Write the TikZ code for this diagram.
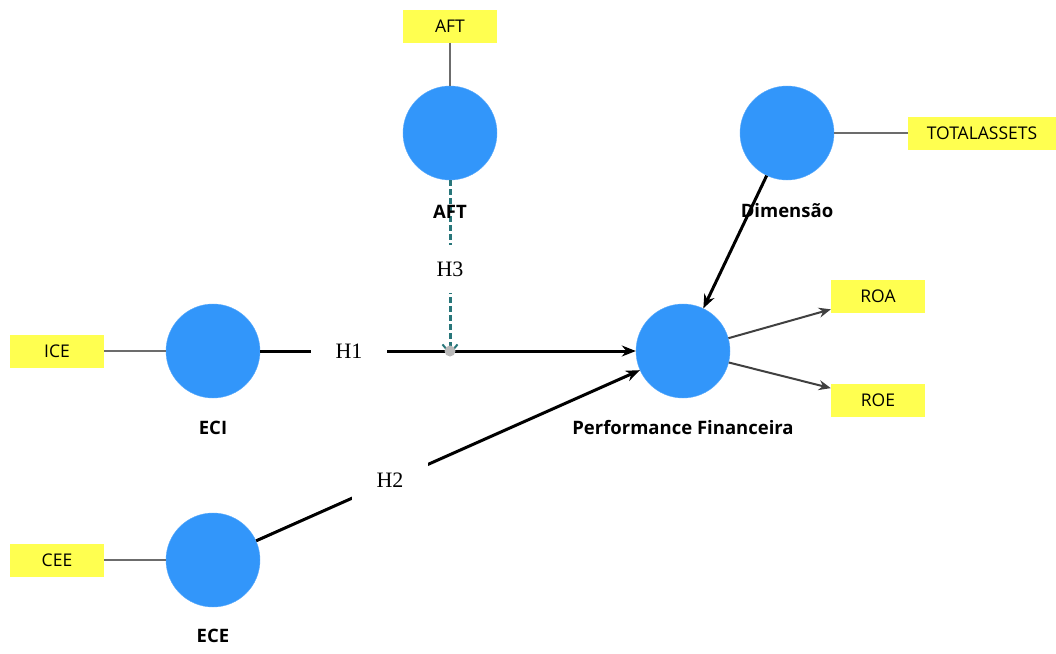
\documentclass[tikz,border=0pt]{standalone}
\usepackage{fontspec}
\setmainfont{Open Sans}
\newfontfamily\hfont{Liberation Serif}
\usetikzlibrary{arrows.meta}
\definecolor{lvblue}{RGB}{50,150,250}
\definecolor{indyellow}{RGB}{255,255,80}
\definecolor{modteal}{RGB}{40,118,122}
\tikzset{
  latent/.style={circle,fill=lvblue,draw=lvblue!80!white,minimum size=94pt,inner sep=0pt},
  indicator/.style={fill=indyellow,minimum width=94pt,minimum height=33pt,inner sep=0pt,font=\fontsize{17.5}{20}\selectfont},
  lvlabel/.style={font=\fontsize{18.5}{21}\selectfont\bfseries},
  loading/.style={draw=gray!85!black,line width=2.2pt},
  outload/.style={draw=black!75,line width=2pt,-{Stealth[length=12pt,width=10pt]}},
  path/.style={draw=black,line width=3pt,-{Stealth[length=14pt,width=11pt]}},
  hyp/.style={fill=white,inner sep=0pt,minimum width=76pt,minimum height=50pt,font=\hfont\fontsize{22}{25}\selectfont},
  moder/.style={draw=modteal,line width=3pt,dash pattern=on 6pt off 3pt,-{Straight Barb[length=9pt,width=15pt,line width=2pt]}}
}
\begin{document}
\begin{tikzpicture}[x=1pt,y=-1pt]
\useasboundingbox (0,0) rectangle (1056,653);

% latent variables
\node[latent] (aft) at (450,133) {};
\node[latent] (dim) at (787,133) {};
\node[latent] (eci) at (213,351) {};
\node[latent] (ece) at (213,560) {};
\node[latent] (pf)  at (683,351) {};

% indicators
\node[indicator] (aftind) at (450,26) {AFT};
\node[indicator,minimum width=148pt] (tot) at (982,133) {TOTALASSETS};
\node[indicator] (roa) at (878,296) {ROA};
\node[indicator] (roe) at (878,400) {ROE};
\node[indicator] (ice) at (57,351) {ICE};
\node[indicator] (cee) at (57,560) {CEE};

% measurement model
\draw[loading] (aftind) -- (aft);
\draw[loading] (dim) -- (tot);
\draw[loading] (ice) -- (eci);
\draw[loading] (cee) -- (ece);
\draw[outload] (pf) -- (roa);
\draw[outload] (pf) -- (roe);

% structural paths
\coordinate (mod) at (450,351);
\draw[path] (eci) -- (pf);
\draw[path] (ece) -- (pf);
\draw[path] (dim) -- (pf);

% moderation
\draw[moder] (aft) -- ([yshift=-4pt]mod);
\fill[gray!55] (mod) circle (5.5pt);

% variable names
\node[lvlabel] (aftlab) at (450,212) {AFT};
\node[lvlabel] (dimlab) at (787,211) {Dimensão};
\node[lvlabel] (ecilab) at (213,428) {ECI};
\node[lvlabel] (ecelab) at (213,636) {ECE};
\node[lvlabel] (pflab) at (683,428) {Performance Financeira};

% hypothesis labels
\node[hyp] (h1) at (349,351) {H1};
\node[hyp] (h2) at (390,480) {H2};
\node[hyp,minimum height=48pt,minimum width=40pt] (h3) at (450,269) {H3};
\end{tikzpicture}
\end{document}
